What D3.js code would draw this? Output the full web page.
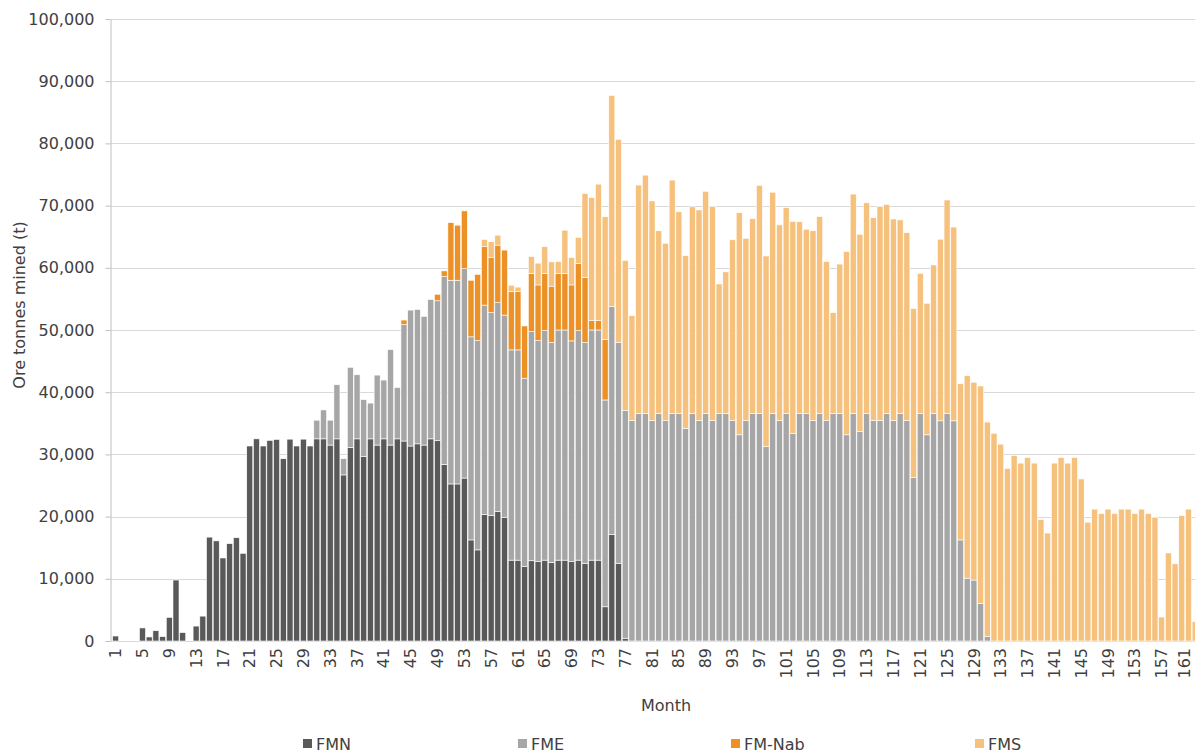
<!DOCTYPE html>
<html>
<head>
<meta charset="utf-8">
<script src="https://cdn.jsdelivr.net/npm/d3@7/dist/d3.min.js"></script>
<style>
  html, body { margin: 0; padding: 0; background: #ffffff; }
  svg { display: block; }
  text { font-family: "DejaVu Sans", "Liberation Sans", sans-serif; fill: #404040; }
</style>
</head>
<body>
<svg id="chart" width="1195" height="754"></svg>
<script>
// ---------------- DATA ----------------
const seriesNames = ["FMN", "FME", "FM-Nab", "FMS"];
const seriesColors = ["#595959", "#a6a6a6", "#ec9126", "#f5c17c"];
const yTickValues = [0, 10000, 20000, 30000, 40000, 50000, 60000, 70000, 80000, 90000, 100000];
const xLabelMonths = d3.range(1, 162, 4); // 1,5,...,161
const yTitle = "Ore tonnes mined (t)";
const xTitle = "Month";

// FMN (months 1..77)
const fmn = [
  800, 0, 0, 0, 2100, 650, 1650, 700, 3800, 9800,
  1350, 0, 2400, 4000, 16700, 16100, 13350, 15650, 16600, 14100,
  31350, 32500, 31350, 32250, 32400, 29300, 32450, 31350, 32450, 31350,
  32500, 32500, 31500, 32500, 26700, 31100, 32500, 29650, 32500, 31500,
  32500, 31500, 32500, 32150, 31350, 31700, 31500, 32500, 32200, 28400,
  25250, 25250, 26200, 16250, 14650, 20350, 20150, 20800, 19900, 13000,
  13000, 11950, 12900, 12750, 13000, 12650, 13000, 13000, 12750, 13000,
  12500, 13000, 13000, 5500, 17150, 12500, 450
];
// FME (months 1..131)
const fme = [
  0, 0, 0, 0, 0, 0, 0, 0, 0, 0,
  0, 0, 0, 0, 0, 0, 0, 0, 0, 0,
  0, 0, 0, 0, 0, 0, 0, 0, 0, 0,
  3000, 4650, 4000, 8700, 2600, 12900, 10300, 9150, 5750, 11250,
  9450, 15350, 8250, 18700, 21850, 21600, 20700, 22400, 22500, 30200,
  32750, 32750, 33650, 32650, 33650, 33650, 32650, 33600, 32500, 33800,
  33800, 30300, 36850, 35550, 36900, 35350, 37000, 37000, 35500, 36900,
  35500, 37000, 37000, 33250, 36600, 35500, 36600, 35450, 36600, 36600,
  35450, 36600, 35450, 36600, 36600, 34200, 36600, 35450, 36600, 35450,
  36600, 36600, 35450, 33150, 35450, 36600, 36600, 31250, 36600, 35450,
  36600, 33400, 36600, 36600, 35450, 36600, 35450, 36600, 36600, 33150,
  36600, 33700, 36600, 35450, 35450, 36600, 35450, 36600, 35450, 26300,
  36600, 33150, 36600, 35400, 36600, 35400, 16250, 10100, 9800, 6050,
  700
];
// FM-Nab (months 1..74)
const fmNab = [
  0, 0, 0, 0, 0, 0, 0, 0, 0, 0,
  0, 0, 0, 0, 0, 0, 0, 0, 0, 0,
  0, 0, 0, 0, 0, 0, 0, 0, 0, 0,
  0, 0, 0, 0, 0, 0, 0, 0, 0, 0,
  0, 0, 0, 750, 0, 0, 0, 0, 1050, 900,
  9250, 8850, 9300, 9100, 10650, 9400, 8900, 9250, 10450, 9350,
  9400, 8400, 9350, 8950, 9200, 9050, 9100, 9100, 9000, 10800,
  10450, 1500, 1500, 9750
];
// FMS (months 1..162)
const fms = [
  0, 0, 0, 0, 0, 0, 0, 0, 0, 0,
  0, 0, 0, 0, 0, 0, 0, 0, 0, 0,
  0, 0, 0, 0, 0, 0, 0, 0, 0, 0,
  0, 0, 0, 0, 0, 0, 0, 0, 0, 0,
  0, 0, 0, 0, 0, 0, 0, 0, 0, 0,
  0, 0, 0, 0, 0, 1150, 2500, 1600, 0, 1050,
  700, 0, 2700, 3500, 4300, 3900, 1900, 6950, 4400, 4200,
  13500, 19800, 21950, 19700, 33950, 32650, 24150, 16850, 36700, 38300,
  35300, 29350, 28500, 37500, 32400, 27750, 33200, 33850, 35700, 34400,
  20800, 22750, 29050, 35700, 29300, 31300, 36650, 30650, 35550, 31450,
  33050, 34050, 30800, 29600, 30500, 31650, 25550, 16200, 24000, 29450,
  35250, 31700, 33850, 32600, 34400, 33600, 32400, 31100, 30200, 27150,
  22500, 21150, 23850, 29200, 34300, 31150, 25100, 32550, 31800, 34950,
  34500, 33400, 31650, 27750, 29800, 28600, 29500, 28600, 19500, 17350,
  28600, 29500, 28600, 29500, 26050, 19100, 21200, 20500, 21200, 20500,
  21200, 21200, 20500, 21200, 20500, 19900, 3850, 14150, 12400, 20150,
  21200, 3100
];
const months = d3.range(1, 163);

// ---------------- CHART ----------------
const svg = d3.select("#chart");
const W = 1195, H = 754;
const step = 6.705;
const x0 = 112.3;

const x = d3.scaleBand()
  .domain(months)
  .range([x0, x0 + months.length * step])
  .paddingInner(0.1)
  .paddingOuter(0.05);

const y = d3.scaleLinear().domain([0, 100000]).range([641, 19]);

const rows = months.map((m, i) => ({
  month: m,
  "FMN": fmn[i] || 0,
  "FME": fme[i] || 0,
  "FM-Nab": fmNab[i] || 0,
  "FMS": fms[i] || 0
}));

const stacked = d3.stack().keys(seriesNames)(rows);
const color = d3.scaleOrdinal().domain(seriesNames).range(seriesColors);

// gridlines
svg.append("g")
  .selectAll("line")
  .data(yTickValues)
  .join("line")
  .attr("x1", 111).attr("x2", W)
  .attr("y1", d => Math.round(y(d)) + 0.5)
  .attr("y2", d => Math.round(y(d)) + 0.5)
  .attr("stroke", "#d9d9d9")
  .attr("stroke-width", 1);

// bars
svg.append("g")
  .selectAll("g")
  .data(stacked)
  .join("g")
  .attr("fill", d => color(d.key))
  .selectAll("rect")
  .data(d => d.filter(s => s[1] - s[0] > 0))
  .join("rect")
  .attr("x", d => x(d.data.month))
  .attr("width", x.bandwidth())
  .attr("y", d => y(d[1]))
  .attr("height", d => y(d[0]) - y(d[1]))
  .attr("stroke", "#ffffff")
  .attr("stroke-width", 0.6);

// y axis
const yAxis = svg.append("g")
  .attr("transform", "translate(110.5,0)")
  .call(d3.axisLeft(y)
    .tickValues(yTickValues)
    .tickSize(5)
    .tickSizeOuter(0)
    .tickPadding(11)
    .tickFormat(d3.format(",")));
yAxis.select(".domain").attr("stroke", "#bfbfbf");
yAxis.selectAll(".tick line").attr("stroke", "#bfbfbf");
yAxis.selectAll("text")
  .attr("font-size", 16)
  .style("fill", "#404040")
  .attr("font-family", "DejaVu Sans, sans-serif");

// x axis labels
const xAxis = svg.append("g")
  .attr("transform", "translate(0,641)")
  .call(d3.axisBottom(x).tickValues(xLabelMonths).tickSize(0).tickSizeOuter(0));
xAxis.select(".domain").remove();
xAxis.selectAll("text")
  .attr("font-size", 16)
  .attr("font-family", "DejaVu Sans, sans-serif")
  .style("fill", "#404040")
  .attr("transform", "rotate(-90)")
  .attr("text-anchor", "end")
  .attr("x", -7)
  .attr("y", 0)
  .attr("dy", d => d === 161 ? "0.12em" : "0.35em");

// axis titles
svg.append("text")
  .attr("transform", "translate(25,305) rotate(-90)")
  .attr("text-anchor", "middle")
  .attr("font-size", 16)
  .text(yTitle);

svg.append("text")
  .attr("x", 666).attr("y", 711)
  .attr("text-anchor", "middle")
  .attr("font-size", 16)
  .text(xTitle);

// legend
const legendX = [303, 518, 731, 975];
const legend = svg.append("g")
  .selectAll("g")
  .data(seriesNames)
  .join("g")
  .attr("transform", (d, i) => `translate(${legendX[i]},739)`);
legend.append("rect")
  .attr("width", 9).attr("height", 9)
  .attr("fill", d => color(d));
legend.append("text")
  .attr("x", 13).attr("y", 10.5)
  .attr("font-size", 16)
  .text(d => d);
</script>
</body>
</html>
